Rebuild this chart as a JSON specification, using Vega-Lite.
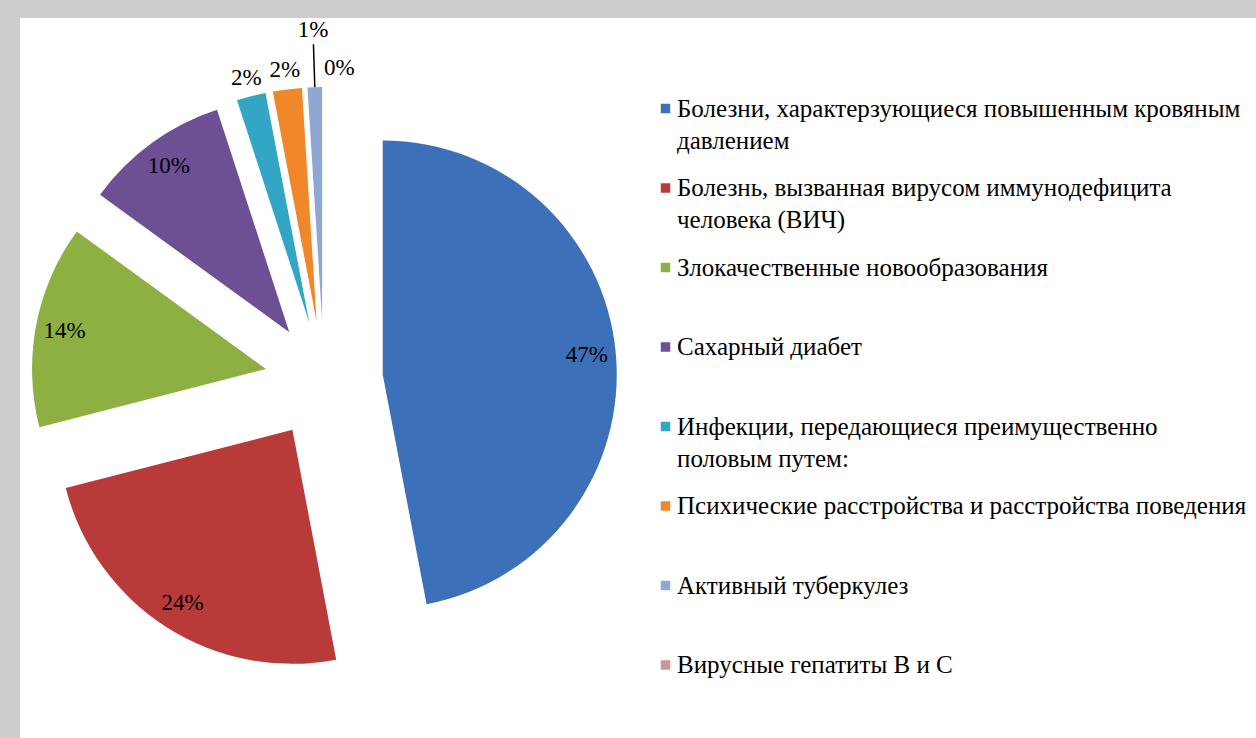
{
  "$schema": "https://vega.github.io/schema/vega-lite/v6.json",
  "width": 1236,
  "height": 720,
  "autosize": {"type": "none"},
  "padding": {"left": 20, "top": 18, "right": 0, "bottom": 0},
  "background": "#cdcdcd",
  "config": {
    "view": {"fill": "white", "stroke": null},
    "font": "Liberation Serif"
  },
  "data": {
    "values": [
      {"ord": 1, "name": "Болезни, характерзующиеся повышенным кровяным давлением", "share": 0.47},
      {"ord": 2, "name": "Болезнь, вызванная вирусом иммунодефицита человека (ВИЧ)", "share": 0.24},
      {"ord": 3, "name": "Злокачественные новообразования", "share": 0.14},
      {"ord": 4, "name": "Сахарный диабет", "share": 0.10},
      {"ord": 5, "name": "Инфекции, передающиеся преимущественно половым путем:", "share": 0.02},
      {"ord": 6, "name": "Психические расстройства и расстройства поведения", "share": 0.02},
      {"ord": 7, "name": "Активный туберкулез", "share": 0.01},
      {"ord": 8, "name": "Вирусные гепатиты В и С", "share": 0.0}
    ]
  },
  "transform": [
    {"window": [{"op": "sum", "field": "share", "as": "cum"}], "sort": [{"field": "ord"}], "frame": [null, 0]},
    {"calculate": "datum.cum - datum.share", "as": "start"},
    {"calculate": "datum.cum - datum.share / 2", "as": "midp"},
    {"calculate": "sin(2 * PI * datum.midp)", "as": "ux"},
    {"calculate": "-cos(2 * PI * datum.midp)", "as": "uy"}
  ],
  "encoding": {
    "x": {"field": "ux", "type": "quantitative", "stack": null, "axis": null,
      "scale": {"domain": [-1, 1], "range": [245, 363], "nice": false, "zero": false}},
    "y": {"field": "uy", "type": "quantitative", "stack": null, "axis": null,
      "scale": {"domain": [-1, 1], "range": [303, 421], "nice": false, "zero": false}}
  },
  "layer": [
    {
      "mark": {"type": "arc", "radius": 234},
      "encoding": {
        "theta": {"field": "start", "type": "quantitative", "stack": null,
          "scale": {"domain": [0, 1], "range": [0, 6.283185307179586]}},
        "theta2": {"field": "cum"},
        "color": {
          "field": "name", "type": "nominal", "sort": null,
          "scale": {"range": ["#3C70B8", "#B93B39", "#8EB042", "#6D4F94", "#33A5C5", "#F0882A", "#8FA7D3", "#CE9597"]},
          "legend": {
            "orient": "none", "legendX": 633, "legendY": 78, "title": null, "padding": 0,
            "symbolType": "square", "symbolSize": 90, "symbolStrokeWidth": 0,
            "labelFont": "Liberation Serif", "labelFontSize": 25, "labelColor": "black",
            "labelLimit": 0, "labelOffset": -1, "rowPadding": 21.5, "gridAlign": "all",
            "labelExpr": "datum.label == 'Болезни, характерзующиеся повышенным кровяным давлением' ? ['Болезни, характерзующиеся повышенным кровяным', 'давлением'] : datum.label == 'Болезнь, вызванная вирусом иммунодефицита человека (ВИЧ)' ? ['Болезнь, вызванная вирусом иммунодефицита', 'человека (ВИЧ)'] : datum.label == 'Инфекции, передающиеся преимущественно половым путем:' ? ['Инфекции, передающиеся преимущественно', 'половым путем:'] : datum.label",
            "encode": {"labels": {"update": {"lineHeight": {"value": 32}, "font": {"value": "Liberation Serif"}, "fontSize": {"value": 25}, "fill": {"value": "black"}}}}
          }
        }
      }
    },
    {
      "transform": [{"filter": "datum.share >= 0.05"}],
      "mark": {"type": "text", "radius": 205, "font": "Liberation Serif", "fontSize": 23, "color": "black"},
      "encoding": {
        "theta": {"field": "midp", "type": "quantitative", "stack": null,
          "scale": {"domain": [0, 1], "range": [0, 6.283185307179586]}},
        "text": {"field": "share", "type": "quantitative", "format": ".0%"}
      }
    },
    {
      "transform": [{"filter": "datum.share == 0.02"}],
      "mark": {"type": "text", "radius": 253, "font": "Liberation Serif", "fontSize": 23, "color": "black"},
      "encoding": {
        "theta": {"field": "midp", "type": "quantitative", "stack": null,
          "scale": {"domain": [0, 1], "range": [0, 6.283185307179586]}},
        "text": {"field": "share", "type": "quantitative", "format": ".0%"}
      }
    },
    {
      "transform": [{"filter": "datum.share == 0.01"}],
      "mark": {"type": "text", "radius": 291, "font": "Liberation Serif", "fontSize": 23, "color": "black"},
      "encoding": {
        "theta": {"field": "midp", "type": "quantitative", "stack": null,
          "scale": {"domain": [0, 1], "range": [0, 6.283185307179586]}},
        "text": {"field": "share", "type": "quantitative", "format": ".0%"}
      }
    },
    {
      "transform": [{"filter": "datum.share == 0.01"}],
      "mark": {"type": "arc", "radius": 277, "radius2": 234, "fill": "transparent", "stroke": "black", "strokeWidth": 1.5},
      "encoding": {
        "theta": {"field": "midp", "type": "quantitative", "stack": null,
          "scale": {"domain": [0, 1], "range": [0, 6.283185307179586]}},
        "theta2": {"field": "midp"}
      }
    },
    {
      "transform": [{"filter": "datum.share == 0"}],
      "mark": {"type": "text", "radius": 253, "align": "left", "font": "Liberation Serif", "fontSize": 23, "color": "black"},
      "encoding": {
        "theta": {"field": "midp", "type": "quantitative", "stack": null,
          "scale": {"domain": [0, 1], "range": [0, 6.283185307179586]}},
        "text": {"field": "share", "type": "quantitative", "format": ".0%"}
      }
    }
  ]
}
